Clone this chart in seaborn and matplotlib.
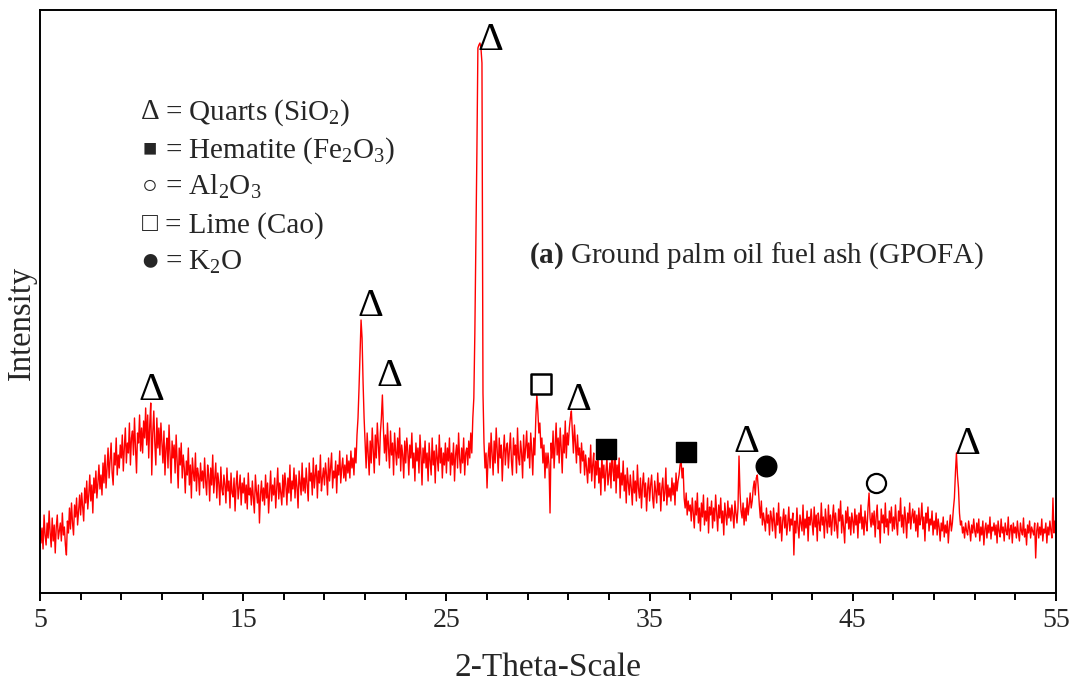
import numpy as np
import pandas as pd
import matplotlib
matplotlib.use("Agg")
import matplotlib.pyplot as plt
import seaborn as sns

# ---------------- data ----------------
two_theta_start = 5.0
two_theta_step = 0.05

intensity = [
    # 5.00 - 5.95
    72, 50, 65, 44, 78, 58, 48, 70, 55, 82, 60, 46, 75, 52, 68, 40, 66, 78, 54, 62,
    # 6
    70, 52, 80, 58, 66, 48, 38, 72, 60, 85, 64, 90, 70, 58, 88, 76, 95, 68, 82, 98,
    # 7
    78, 100, 86, 72, 105, 90, 112, 84, 98, 118, 92, 108, 80, 115, 100, 122, 95, 110, 128, 104,
    # 8
    118, 98, 130, 110, 138, 105, 125, 145, 115, 132, 150, 120, 108, 140, 128, 155, 118, 138, 125, 148,
    # 9
    135, 158, 122, 145, 165, 130, 150, 140, 170, 128, 155, 162, 138, 175, 145, 120, 160, 150, 178, 142,
    # 10
    165, 140, 172, 155, 185, 148, 178, 135, 168, 190, 118, 160, 182, 150, 128, 175, 145, 165, 138, 170,
    # 11
    150, 130, 162, 118, 145, 155, 125, 168, 140, 110, 152, 135, 148, 120, 158, 132, 105, 145, 128, 150,
    # 12
    115, 138, 125, 100, 132, 118, 145, 108, 128, 95, 135, 120, 112, 140, 102, 125, 118, 98, 130, 112,
    # 13
    122, 105, 135, 112, 98, 128, 118, 92, 125, 108, 138, 100, 115, 130, 95, 120, 110, 88, 126, 104,
    # 14
    98, 118, 108, 90, 125, 102, 112, 85, 120, 100, 96, 115, 82, 108, 122, 94, 105, 118, 88, 110,
    # 15
    100, 115, 90, 108, 84, 120, 98, 105, 88, 112, 95, 80, 118, 102, 90, 108, 70, 98, 112, 92,
    # 16
    105, 88, 118, 95, 110, 80, 102, 122, 92, 108, 98, 115, 85, 105, 125, 94, 110, 100, 88, 118,
    # 17
    96, 120, 108, 88, 115, 100, 128, 92, 112, 104, 125, 95, 118, 106, 85, 122, 110, 98, 130, 102,
    # 18
    115, 100, 125, 108, 92, 130, 112, 120, 98, 135, 105, 118, 128, 95, 122, 110, 138, 102, 115, 125,
    # 19
    108, 130, 118, 98, 135, 112, 125, 140, 105, 122, 115, 132, 100, 128, 118, 142, 110, 125, 135, 115,
    # 20
    128, 112, 138, 120, 132, 115, 142, 125, 135, 118, 145, 130, 158, 175, 205, 240, 273, 255, 210, 175,
    # 21
    150, 125, 160, 138, 118, 152, 130, 165, 142, 120, 158, 135, 170, 148, 128, 160, 175, 198, 165, 140,
    # 22
    158, 132, 170, 145, 125, 162, 138, 150, 118, 160, 142, 128, 155, 135, 165, 122, 148, 138, 115, 152,
    # 23
    130, 155, 142, 118, 148, 135, 160, 125, 140, 112, 150, 132, 145, 120, 158, 138, 108, 145, 130, 152,
    # 24
    125, 140, 112, 150, 132, 118, 155, 128, 142, 110, 148, 135, 122, 158, 130, 145, 115, 140, 128, 150,
    # 25
    120, 145, 132, 155, 118, 140, 128, 150, 112, 138, 148, 125, 160, 135, 120, 145, 130, 155, 118, 140,
    # 26
    145, 128, 152, 135, 160, 140, 175, 195, 260, 350, 440, 545, 548, 550, 545, 530, 200, 150, 125, 140,
    # 27
    105, 135, 150, 125, 160, 138, 118, 152, 130, 165, 142, 120, 155, 135, 148, 112, 140, 158, 128, 145,
    # 28
    150, 125, 142, 160, 132, 118, 155, 138, 148, 120, 165, 135, 128, 152, 140, 115, 158, 132, 145, 162,
    # 29
    135, 150, 125, 160, 142, 118, 155, 138, 175, 198, 182, 160, 170, 145, 155, 130, 148, 115, 140, 125,
    # 30
    140, 128, 80, 150, 135, 162, 125, 148, 170, 138, 155, 130, 165, 145, 120, 158, 140, 172, 135, 160,
    # 31
    148, 165, 175, 182, 160, 140, 168, 150, 130, 158, 138, 145, 120, 150, 132, 142, 118, 138, 125, 110,
    # 32
    135, 120, 148, 112, 128, 140, 105, 132, 118, 145, 110, 125, 98, 138, 115, 128, 102, 122, 135, 108,
    # 33
    118, 130, 105, 148, 122, 112, 150, 100, 128, 115, 135, 95, 120, 108, 132, 102, 118, 90, 125, 110,
    # 34
    98, 118, 105, 88, 122, 100, 112, 92, 128, 105, 95, 115, 85, 108, 120, 96, 110, 82, 104, 115,
    # 35
    92, 108, 118, 95, 85, 112, 102, 90, 120, 98, 110, 82, 105, 115, 92, 100, 125, 88, 108, 96,
    # 36
    105, 92, 115, 98, 110, 88, 120, 102, 112, 118, 128, 133, 115, 125, 95, 85, 100, 78, 92, 82,
    # 37
    88, 72, 95, 80, 65, 92, 78, 100, 70, 85, 62, 90, 76, 98, 68, 82, 72, 95, 60, 86,
    # 38
    78, 92, 65, 85, 72, 98, 80, 62, 88, 75, 95, 70, 82, 58, 90, 78, 68, 92, 75, 85,
    # 39
    72, 88, 78, 65, 92, 80, 70, 85, 137, 100, 82, 75, 90, 68, 85, 72, 95, 78, 88, 100,
    # 40
    85, 92, 105, 112, 98, 115, 118, 105, 88, 75, 92, 68, 80, 72, 62, 85, 70, 78, 58, 82,
    # 41
    75, 62, 85, 70, 55, 80, 68, 90, 60, 76, 52, 72, 84, 65, 78, 58, 70, 86, 62, 74,
    # 42
    68, 80, 38, 72, 60, 85, 66, 55, 78, 70, 62, 88, 58, 74, 65, 82, 52, 76, 68, 84,
    # 43
    70, 58, 86, 66, 78, 52, 80, 70, 62, 90, 68, 76, 55, 84, 72, 60, 88, 66, 78, 58,
    # 44
    75, 88, 62, 80, 68, 55, 84, 72, 92, 60, 78, 66, 50, 82, 70, 86, 64, 76, 58, 80,
    # 45
    72, 60, 84, 68, 78, 55, 80, 70, 88, 64, 76, 58, 82, 70, 62, 86, 100, 75, 66, 80,
    # 46
    68, 82, 56, 76, 88, 64, 72, 50, 84, 70, 78, 60, 90, 66, 74, 58, 82, 70, 86, 62,
    # 47
    76, 64, 88, 70, 58, 82, 72, 95, 66, 78, 60, 86, 74, 55, 80, 70, 90, 64, 76, 84,
    # 48
    70, 82, 62, 78, 56, 85, 68, 74, 90, 64, 76, 52, 80, 70, 86, 62, 74, 68, 82, 58,
    # 49
    72, 64, 80, 58, 74, 66, 52, 70, 62, 76, 56, 68, 60, 72, 50, 66, 78, 62, 70, 84,
    # 50
    95, 120, 140, 118, 105, 80, 68, 72, 60, 66, 55, 70, 62, 58, 72, 64, 52, 68, 60, 74,
    # 51
    62, 56, 70, 60, 74, 52, 66, 58, 72, 48, 64, 70, 55, 68, 60, 76, 54, 66, 62, 70,
    # 52
    58, 68, 50, 72, 62, 56, 74, 60, 66, 52, 70, 62, 58, 76, 54, 64, 68, 50, 70, 60,
    # 53
    66, 55, 72, 60, 52, 70, 62, 58, 75, 56, 64, 48, 68, 60, 72, 55, 66, 62, 58, 70,
    # 54
    35, 62, 70, 55, 66, 58, 74, 52, 64, 60, 70, 50, 66, 58, 72, 62, 55, 95, 60, 72,
    # 55
    58,
]

# phase markers: symbol kind and 2-theta / intensity where the symbol sits
marker_kind = ["tri", "tri", "tri", "tri", "sq_open", "tri", "sq_fill",
               "sq_fill", "tri", "circ_fill", "circ_open", "tri"]
marker_theta = [10.46, 21.24, 22.22, 27.15, 29.66, 31.48, 32.85,
                36.79, 39.79, 40.73, 46.14, 50.62]
marker_level = [203, 286, 216, 553, 209, 192, 144, 141, 151, 127, 110, 148]

legend_symbols = ["\u0394", "\u25A0", "\u25CB", "\u25A1", "\u25CF"]
legend_texts = [r"= Quarts (SiO$_2$)", r"= Hematite (Fe$_2$O$_3$)",
                r"= Al$_2$O$_3$", r"= Lime (Cao)", r"= K$_2$O"]

x_major = [5, 15, 25, 35, 45, 55]
x_minor = [7, 9, 11, 13, 17, 19, 21, 23, 27, 29, 31, 33, 37, 39, 41, 43, 47, 49, 51, 53]

# ---------------- styling ----------------
sns.set_style("ticks")
plt.rcParams["font.family"] = ["Liberation Serif", "DejaVu Serif"]
plt.rcParams["mathtext.fontset"] = "custom"
plt.rcParams["mathtext.rm"] = "Liberation Serif"
plt.rcParams["mathtext.it"] = "Liberation Serif:italic"
plt.rcParams["mathtext.bf"] = "Liberation Serif:bold"

theta = two_theta_start + two_theta_step * np.arange(len(intensity))
df = pd.DataFrame({"2theta": theta, "I": intensity})

fig = plt.figure(figsize=(10.76, 6.84), dpi=100)
ax = fig.add_axes([40 / 1076, 91 / 684, 1016 / 1076, 583 / 684])

sns.lineplot(data=df, x="2theta", y="I", color="red", linewidth=1.0, ax=ax)

ax.set_xlim(5, 55)
ax.set_ylim(0, 583)
ax.set_xticks(x_major)
ax.set_xticks(x_minor, minor=True)
ax.set_yticks([])
ax.tick_params(axis="x", which="major", direction="out", length=6, width=1.4,
               labelsize=20, pad=5, color="black")
ax.tick_params(axis="x", which="minor", direction="out", length=5, width=1.4,
               color="black")
for s in ax.spines.values():
    s.set_visible(True)
    s.set_linewidth(1.4)
    s.set_color("black")

ax.set_xlabel("2-Theta-Scale", fontsize=24, labelpad=14)
ax.set_ylabel("Intensity", fontsize=23.5)
ax.yaxis.set_label_coords(-0.003, 0.463)

# phase symbols
for kind, xt, lv in zip(marker_kind, marker_theta, marker_level):
    if kind == "tri":
        ax.text(xt, lv, "\u0394", fontsize=29, ha="center", va="center",
                color="black")
    elif kind == "sq_open":
        ax.scatter([xt], [lv], marker="s", s=200, facecolor="white",
                   edgecolor="black", linewidth=1.8, zorder=5)
    elif kind == "sq_fill":
        ax.scatter([xt], [lv], marker="s", s=200, facecolor="black",
                   edgecolor="black", linewidth=1.0, zorder=5)
    elif kind == "circ_open":
        ax.scatter([xt], [lv], marker="o", s=190, facecolor="white",
                   edgecolor="black", linewidth=1.6, zorder=5)
    elif kind == "circ_fill":
        ax.scatter([xt], [lv], marker="o", s=220, facecolor="black",
                   edgecolor="black", linewidth=1.0, zorder=5)

# legend-like text block (figure pixel coordinates)
row_center = [112, 150, 187, 225, 262]
sym_sizes = [21, 17, 19, 19, 23]
for sym, txt, py, ss in zip(legend_symbols, legend_texts, row_center, sym_sizes):
    fig.text(150 / 1076, 1 - py / 684, sym, fontsize=ss, ha="center",
             va="center", family=["Liberation Serif", "DejaVu Sans"])
    fig.text(165 / 1076, 1 - (py + 8) / 684, txt, fontsize=21, ha="left",
             va="baseline")

fig.text(529 / 1076, 1 - 263 / 684,
         r"$\mathbf{(a)}$ Ground palm oil fuel ash (GPOFA)",
         fontsize=21, ha="left", va="baseline")

fig.savefig("out.png", dpi=100)
